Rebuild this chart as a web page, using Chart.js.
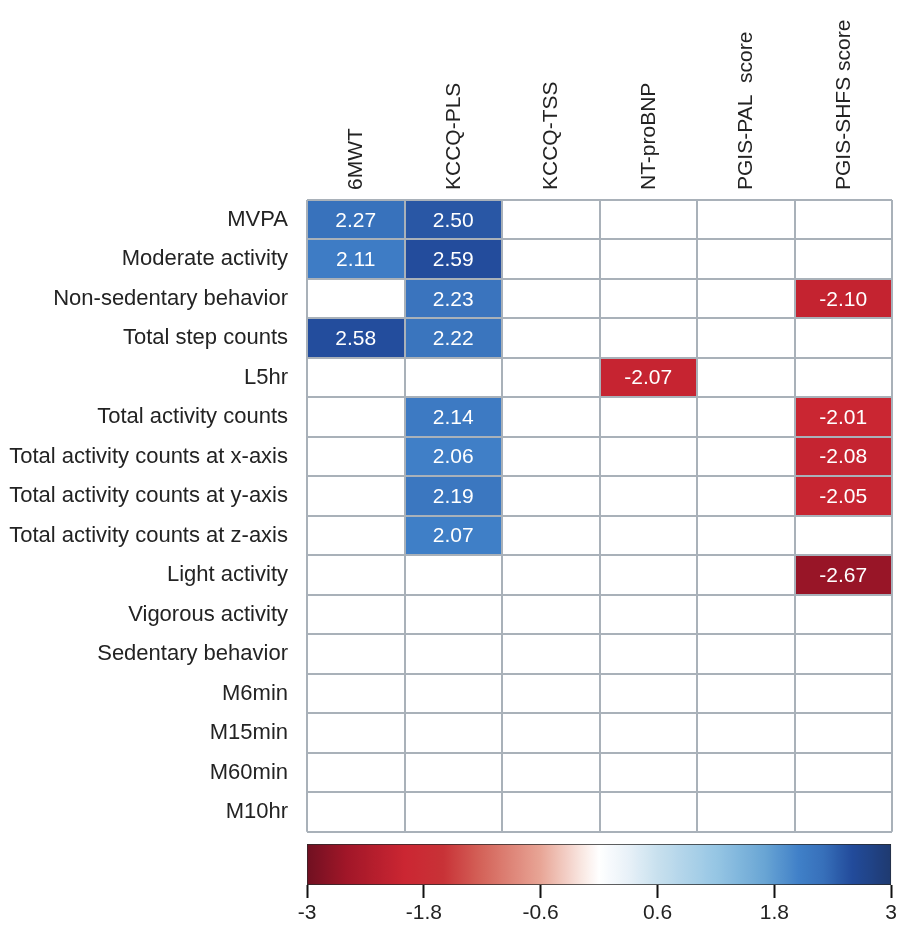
<!DOCTYPE html>
<html>
<head>
<meta charset="utf-8">
<script src="https://cdn.jsdelivr.net/npm/chart.js@4.4.1/dist/chart.umd.min.js"></script>
<style>
  html, body { margin: 0; padding: 0; background: #ffffff; }
  #wrap { position: relative; width: 900px; height: 925px; }
  #heat { position: absolute; left: 0; top: 0; }
  #bar { position: absolute; left: 0; top: 835px; }
</style>
</head>
<body>
<div id="wrap">
  <canvas id="heat" width="900" height="864"></canvas>
  <canvas id="bar" width="900" height="90"></canvas>
</div>
<script>
// Activity measures (rows) and clinical outcomes (columns)
const rowLabels = [
  'MVPA', 'Moderate activity', 'Non-sedentary behavior', 'Total step counts', 'L5hr',
  'Total activity counts', 'Total activity counts at x-axis', 'Total activity counts at y-axis',
  'Total activity counts at z-axis', 'Light activity', 'Vigorous activity', 'Sedentary behavior',
  'M6min', 'M15min', 'M60min', 'M10hr'
];
const colLabels = ['6MWT', 'KCCQ-PLS', 'KCCQ-TSS', 'NT-proBNP', 'PGIS-PAL  score', 'PGIS-SHFS score'];

// Significant statistics per outcome, one entry per activity measure (null = not significant)
const val6MWT     = [2.27, 2.11, null, 2.58, null, null, null, null, null, null, null, null, null, null, null, null];
const valKCCQPLS  = [2.50, 2.59, 2.23, 2.22, null, 2.14, 2.06, 2.19, 2.07, null, null, null, null, null, null, null];
const valKCCQTSS  = [null, null, null, null, null, null, null, null, null, null, null, null, null, null, null, null];
const valNTproBNP = [null, null, null, null, -2.07, null, null, null, null, null, null, null, null, null, null, null];
const valPGISPAL  = [null, null, null, null, null, null, null, null, null, null, null, null, null, null, null, null];
const valPGISSHFS = [null, null, -2.10, null, null, -2.01, -2.08, -2.05, null, -2.67, null, null, null, null, null, null];
const colValues = [val6MWT, valKCCQPLS, valKCCQTSS, valNTproBNP, valPGISPAL, valPGISSHFS];

// Colour scale range and tick labels
const scaleMin = -3, scaleMax = 3;
const scaleTicks = [-3, -1.8, -0.6, 0.6, 1.8, 3];
const scaleTickLabels = ['-3', '-1.8', '-0.6', '0.6', '1.8', '3'];

// Diverging red-white-blue colour map
const cmapStops = [
  [-3.0, 112, 16, 33], [-2.6, 160, 22, 40], [-2.0, 203, 38, 50], [-1.6, 200, 50, 55],
  [-1.2, 212, 100, 90], [-0.6, 232, 165, 150], [-0.2, 248, 228, 222], [0.0, 255, 255, 255],
  [0.3, 232, 241, 248], [0.6, 200, 224, 238], [1.2, 150, 198, 228], [1.7, 105, 165, 212],
  [2.05, 64, 128, 200], [2.3, 55, 112, 186], [2.6, 34, 75, 155], [3.0, 30, 58, 112]
];
function cmap(v) {
  v = Math.max(scaleMin, Math.min(scaleMax, v));
  for (let k = 1; k < cmapStops.length; k++) {
    const a = cmapStops[k - 1], b = cmapStops[k];
    if (v <= b[0]) {
      const t = (v - a[0]) / (b[0] - a[0]);
      const c = [1, 2, 3].map(i => Math.round(a[i] + (b[i] - a[i]) * t));
      return `rgb(${c[0]},${c[1]},${c[2]})`;
    }
  }
  const l = cmapStops[cmapStops.length - 1];
  return `rgb(${l[1]},${l[2]},${l[3]})`;
}

const FONT = 'Liberation Sans, Arial, Helvetica, sans-serif';
const TEXT = '#232323';
const GRID = '#a9b1b9';

// One floating-bar dataset per row; each bar spans [row, row + 1] on the reversed y scale
const datasets = rowLabels.map((name, i) => ({
  label: name,
  data: colLabels.map(() => [i, i + 1]),
  backgroundColor: colValues.map(col => col[i] == null ? '#ffffff' : cmap(col[i])),
  borderWidth: 0,
  barPercentage: 1,
  categoryPercentage: 1,
  grouped: false
}));

// Writes each significant value in the middle of its cell
const cellText = {
  id: 'cellText',
  afterDatasetsDraw(chart) {
    const ctx = chart.ctx;
    ctx.save();
    ctx.font = `21px ${FONT}`;
    ctx.fillStyle = '#ffffff';
    ctx.textAlign = 'center';
    ctx.textBaseline = 'middle';
    chart.data.datasets.forEach((ds, i) => {
      chart.getDatasetMeta(i).data.forEach((el, j) => {
        const v = colValues[j][i];
        if (v == null) return;
        ctx.fillText(v.toFixed(2), el.x, (el.y + el.base) / 2 + 1);
      });
    });
    ctx.restore();
  }
};

new Chart(document.getElementById('heat'), {
  type: 'bar',
  data: { labels: colLabels, datasets },
  options: {
    responsive: false,
    animation: false,
    layout: { padding: { top: 0, right: 8, bottom: 3, left: 0 } },
    plugins: { legend: { display: false }, tooltip: { enabled: false } },
    scales: {
      x: {
        type: 'category',
        position: 'top',
        offset: true,
        border: { display: false },
        grid: { color: GRID, lineWidth: 2, offset: true, drawTicks: false, z: 1 },
        ticks: {
          color: TEXT, font: { size: 21, family: FONT },
          minRotation: 90, maxRotation: 90, autoSkip: false, padding: 10, labelOffset: 26
        },
        afterFit(s) { s.height = 200; }
      },
      y: {
        type: 'linear',
        position: 'left',
        min: 0, max: rowLabels.length,
        reverse: true,
        border: { display: false },
        grid: { display: false, drawTicks: false },
        afterBuildTicks(s) { s.ticks = rowLabels.map((_, i) => ({ value: i + 0.5 })); },
        ticks: {
          color: TEXT, font: { size: 22, family: FONT }, autoSkip: false, padding: 19,
          callback: (v, idx) => rowLabels[idx]
        },
        afterFit(s) { s.width = 307; }
      },
      yg: {
        type: 'linear',
        position: 'right',
        min: 0, max: rowLabels.length,
        reverse: true,
        border: { display: false },
        grid: { color: GRID, lineWidth: 2, drawTicks: false, z: 1 },
        ticks: { display: false, stepSize: 1 },
        afterFit(s) { s.width = 0; }
      }
    }
  },
  plugins: [cellText]
});

// Colour bar drawn as one floating bar filled with the colour map
new Chart(document.getElementById('bar'), {
  type: 'bar',
  data: {
    labels: [''],
    datasets: [{
      data: [[scaleMin, scaleMax]],
      backgroundColor(ctx) {
        const chart = ctx.chart;
        const xs = chart.scales.x;
        if (!chart.chartArea || !xs) return '#ffffff';
        const x0 = xs.getPixelForValue(scaleMin), x1 = xs.getPixelForValue(scaleMax);
        const g = chart.ctx.createLinearGradient(x0, 0, x1, 0);
        const n = 120;
        for (let k = 0; k <= n; k++) {
          const v = scaleMin + (scaleMax - scaleMin) * k / n;
          g.addColorStop(k / n, cmap(v));
        }
        return g;
      },
      borderColor: '#2a2a2a',
      borderWidth: 1,
      borderSkipped: false,
      barPercentage: 1,
      categoryPercentage: 1
    }]
  },
  options: {
    indexAxis: 'y',
    responsive: false,
    animation: false,
    layout: { padding: { top: 9, right: 8, bottom: 0, left: 307 } },
    plugins: { legend: { display: false }, tooltip: { enabled: false } },
    scales: {
      y: { display: false },
      x: {
        type: 'linear',
        min: scaleMin, max: scaleMax,
        border: { display: false },
        grid: { drawOnChartArea: false, drawTicks: true, tickLength: 13, tickColor: '#111111', tickWidth: 2 },
        afterBuildTicks(s) { s.ticks = scaleTicks.map(v => ({ value: v })); },
        ticks: {
          color: TEXT, font: { size: 21, family: FONT }, padding: 3,
          autoSkip: false, maxRotation: 0,
          callback: (v, idx) => scaleTickLabels[idx]
        },
        afterFit(s) { s.height = 40; }
      }
    }
  }
});
</script>
</body>
</html>
